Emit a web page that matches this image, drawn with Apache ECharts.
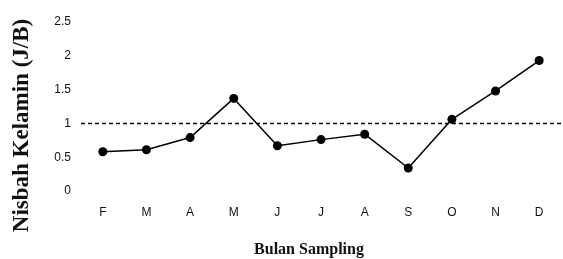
<!DOCTYPE html>
<html><head><meta charset="utf-8">
<script src="https://cdn.jsdelivr.net/npm/echarts@6/dist/echarts.min.js"></script>
<style>html,body{margin:0;padding:0;background:#fff}#c{width:563px;height:259px}</style>
</head><body><div id="c"></div>
<script>
const months = ['F','M','A','M','J','J','A','S','O','N','D'];
const ratio = [0.58,0.61,0.79,1.37,0.67,0.76,0.84,0.34,1.06,1.48,1.93];
const refValue = 1;
const yTicks = [0,0.5,1,1.5,2,2.5];

const chart = echarts.init(document.getElementById('c'));
chart.setOption({
  animation:false,
  backgroundColor:'#fff',
  grid:{left:81,right:2,top:22,bottom:68,outerBoundsMode:'none',containLabel:false},
  xAxis:{
    type:'category', data:months, boundaryGap:true,
    axisLine:{show:false}, axisTick:{show:false},
    axisLabel:{color:'#111', fontFamily:'Liberation Sans Narrow, Liberation Sans, Arial, sans-serif', fontSize:12, margin:16},
    name:'Bulan Sampling', nameLocation:'middle', nameGap:51,
    nameTextStyle:{fontFamily:'Liberation Serif, Times New Roman, serif', fontWeight:'bold', fontSize:16, color:'#111', padding:[0,24,0,0]}
  },
  yAxis:{
    type:'value', min:0, max:2.5, interval:0.5,
    axisLine:{show:false}, axisTick:{show:false}, splitLine:{show:false},
    axisLabel:{color:'#111', fontFamily:'Liberation Sans Narrow, Liberation Sans, Arial, sans-serif', fontSize:12, margin:10,
      formatter:v=>yTicks.includes(v)?String(v):''},
    name:'Nisbah Kelamin (J/B)', nameLocation:'middle', nameGap:47, nameRotate:90,
    nameTextStyle:{fontFamily:'Liberation Serif, Times New Roman, serif', fontWeight:'bold', fontSize:23, color:'#111', padding:[0,38,0,0]}
  },
  series:[{
    type:'line', data:ratio,
    symbol:'circle', symbolSize:9,
    itemStyle:{color:'#000'},
    lineStyle:{color:'#000', width:1.5},
    markLine:{
      silent:true, symbol:'none', label:{show:false},
      lineStyle:{color:'#000', type:[4,3], width:1.3},
      data:[{yAxis:refValue}]
    }
  }]
});
</script></body></html>
